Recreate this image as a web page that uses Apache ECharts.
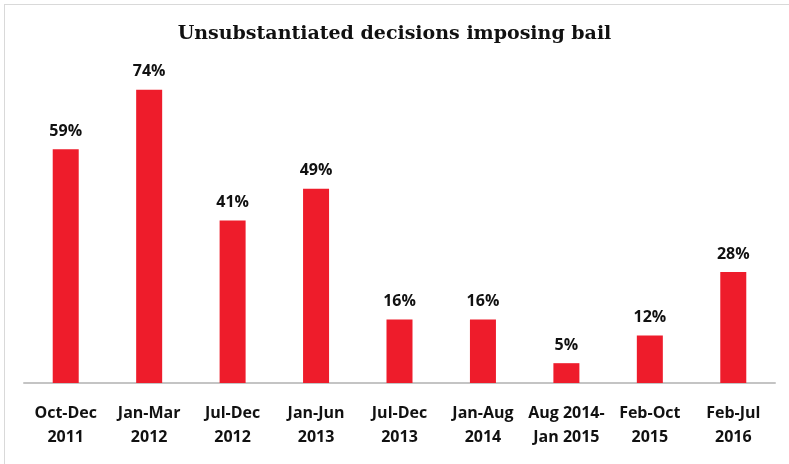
<!DOCTYPE html>
<html><head><meta charset="utf-8">
<script src="https://cdn.jsdelivr.net/npm/echarts@6/dist/echarts.min.js"></script>
<style>
html,body{margin:0;padding:0;background:#fff;}
#frame{position:absolute;left:4px;top:4px;width:800px;height:480px;border-top:1px solid #d9d9d9;border-left:1px solid #d9d9d9;}
#c{position:absolute;left:0;top:0;width:789px;height:464px;}
</style></head>
<body>
<div id="frame"></div>
<div id="c"></div>
<script>
const categories = ['Oct-Dec\n2011','Jan-Mar\n2012','Jul-Dec\n2012','Jan-Jun\n2013','Jul-Dec\n2013','Jan-Aug\n2014','Aug 2014-\nJan 2015','Feb-Oct\n2015','Feb-Jul\n2016'];
const values = [59, 74, 41, 49, 16, 16, 5, 12, 28];
const chart = echarts.init(document.getElementById('c'));
chart.setOption({
  backgroundColor: 'transparent',
  title: {
    text: 'Unsubstantiated decisions imposing bail',
    left: 'center', top: 20,
    textStyle: {fontFamily: 'DejaVu Serif', fontWeight: 'bold', fontSize: 19, color: '#111'}
  },
  grid: {left: 24, right: 14, top: 66, bottom: 81},
  xAxis: {
    type: 'category', data: categories,
    axisLine: {lineStyle: {color: '#c4c4c4', width: 2}},
    axisTick: {show: false},
    axisLabel: {interval: 0, margin: 18, lineHeight: 24, fontFamily: 'Open Sans', fontWeight: 'bold', fontSize: 16, color: '#111'}
  },
  yAxis: {type: 'value', min: 0, max: 80, show: false, splitLine: {show: false}},
  series: [{
    type: 'bar', data: values, barWidth: 26,
    itemStyle: {color: '#EE1C2B'},
    label: {show: true, position: 'top', distance: 10, formatter: '{c}%', fontFamily: 'Open Sans', fontWeight: 'bold', fontSize: 16, color: '#111'}
  }]
});
</script>
</body></html>
